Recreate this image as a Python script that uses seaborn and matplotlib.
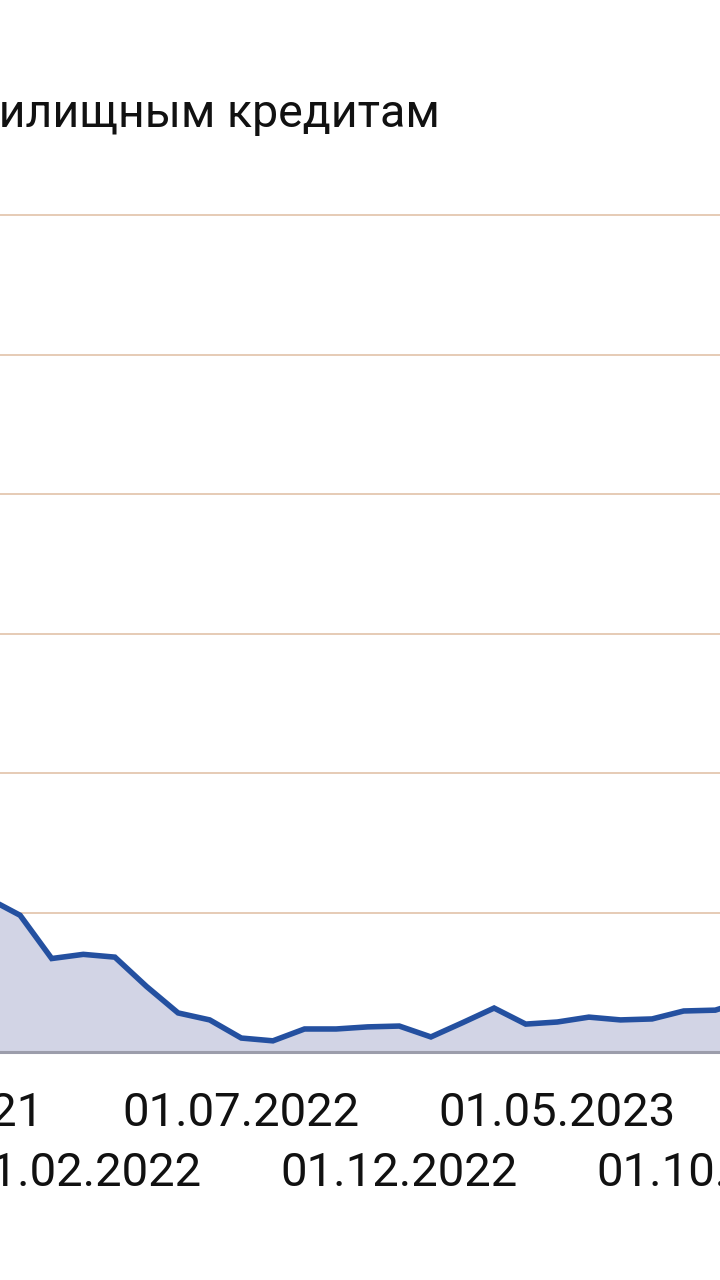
import matplotlib
matplotlib.use("Agg")
import matplotlib.pyplot as plt
import seaborn as sns
import numpy as np
import pandas as pd

# --- data ---
months = ["01.11.2021", "01.12.2021", "01.01.2022", "01.02.2022", "01.03.2022",
          "01.04.2022", "01.05.2022", "01.06.2022", "01.07.2022", "01.08.2022",
          "01.09.2022", "01.10.2022", "01.11.2022", "01.12.2022", "01.01.2023",
          "01.02.2023", "01.03.2023", "01.04.2023", "01.05.2023", "01.06.2023",
          "01.07.2023", "01.08.2023", "01.09.2023", "01.10.2023", "01.11.2023"]
values = [1.10, 0.98, 0.67, 0.70, 0.68,
          0.47, 0.28, 0.23, 0.10, 0.08,
          0.165, 0.165, 0.18, 0.186, 0.108,
          0.21, 0.315, 0.20, 0.215, 0.25,
          0.23, 0.237, 0.294, 0.30, 0.37]
tick_top = ["01.09.2021", "01.07.2022", "01.05.2023"]
tick_bottom = ["01.02.2022", "01.12.2022", "01.10.2023"]
grid_levels = [1, 2, 3, 4, 5, 6]
title = "жилищным кредитам"

sns.set_theme(style="white")
plt.rcParams['font.family'] = ['Roboto', 'DejaVu Sans']

df = pd.DataFrame({"date": months, "value": values})
df["idx"] = np.arange(len(df))
all_months = pd.date_range("2021-09-01", "2023-12-01", freq="MS").strftime("%d.%m.%Y").tolist()
start = all_months.index(months[0])
def pos(label):
    return all_months.index(label) - start

W, H = 720, 1280
fig = plt.figure(figsize=(7.2, 12.8), dpi=100)
fig.patch.set_facecolor("white")
extra_left = 150  # axes extend past the left edge of the picture (chart is cropped)
bottom = 1 - 1052 / H
top = 1 - 150 / H
ax = fig.add_axes([-extra_left / W, bottom, (W + extra_left) / W, top - bottom])

ax.fill_between(df["idx"], df["value"], 0, color="#d2d4e5", zorder=1, lw=0)
sns.lineplot(data=df, x="idx", y="value", ax=ax, color="#2450a0", lw=4.0,
             zorder=3, solid_joinstyle="miter")

for g in grid_levels:
    ax.axhline(g, color="#e6cbb5", lw=1.4, zorder=0)

for s in ["left", "right", "top"]:
    ax.spines[s].set_visible(False)
ax.spines["bottom"].set_color("#9c9dab")
ax.spines["bottom"].set_linewidth(2.2)
ax.spines["bottom"].set_zorder(4)

ax.set_yticks([])
ax.set_xticks([pos(t) for t in tick_top])
ax.set_xticklabels(tick_top)
ax.set_xticks([pos(t) for t in tick_bottom], minor=True)
ax.set_xticklabels(tick_bottom, minor=True)
ax.tick_params(axis="x", which="major", length=0, pad=28, labelsize=34, labelcolor="#111111")
ax.tick_params(axis="x", which="minor", length=0, pad=71, labelsize=34, labelcolor="#111111")
ax.set_xlabel("")
ax.set_ylabel("")
ax.grid(False)

px_per_month = 31.6
x0 = 11.5 / px_per_month
ax.set_xlim(x0 - extra_left / px_per_month, x0 + W / px_per_month)
ax.set_ylim(0, 902 / 139.5)

fig.text(440 / W, 1 - 127 / H, title, ha="right", va="baseline",
         fontsize=33.5, color="#111111")

fig.savefig("out.png", dpi=100, facecolor="white")
